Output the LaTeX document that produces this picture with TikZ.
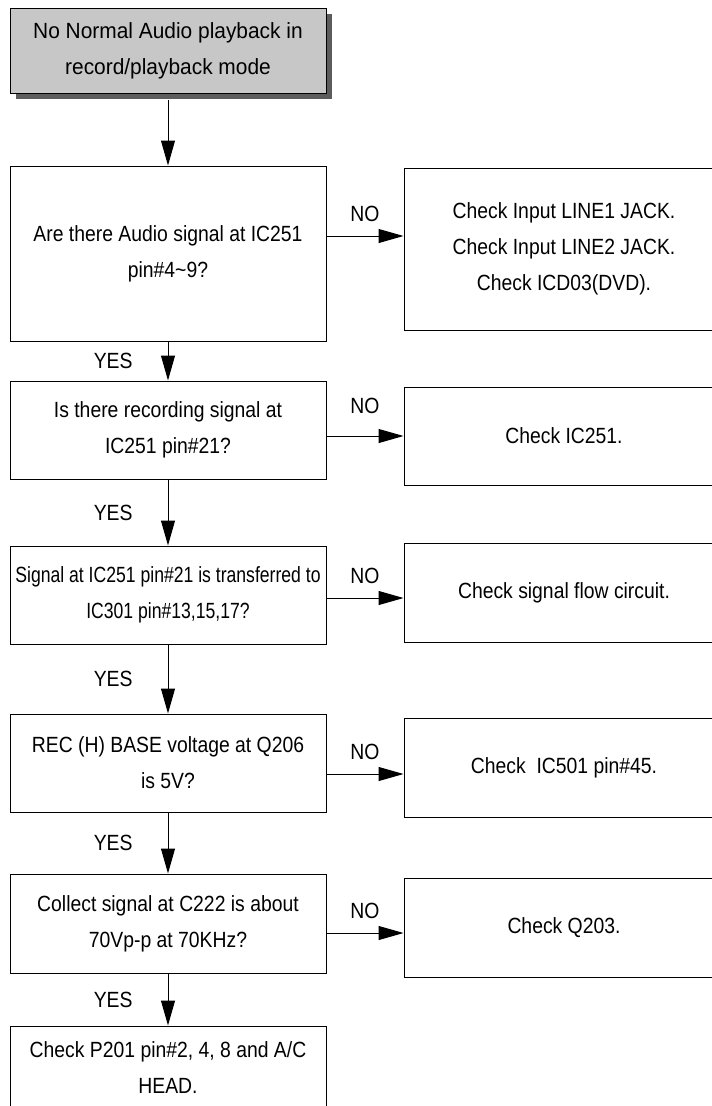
\documentclass[tikz,border=0pt]{standalone}
\usepackage{fontspec}
\setmainfont[FakeStretch=0.88]{Liberation Sans}
\newfontfamily\narrowfont[FakeStretch=0.8]{Liberation Sans}
\newfontfamily\widefont[FakeStretch=0.95]{Liberation Sans}
\usetikzlibrary{arrows.meta,positioning,shadows}
\newcommand{\flowfont}{\fontsize{22}{36}\selectfont}
\definecolor{headfill}{gray}{0.78}
\definecolor{headshade}{gray}{0.36}
\tikzset{
  ask/.style={draw, line width=1pt, minimum width=316pt, minimum height=98pt, inner sep=0pt, align=center, font=\flowfont},
  fix/.style={ask, minimum width=320pt},
  head/.style={ask, fill=headfill, minimum height=85pt, font=\flowfont\widefont,
               drop shadow={shadow xshift=6pt, shadow yshift=-6pt, fill=headshade, opacity=1}},
  flow/.style={-{Triangle[length=25pt, width=14pt]}, line width=1pt},
  lbl/.style={font=\flowfont, inner sep=0pt},
}

\begin{document}
\begin{tikzpicture}[x=1pt, y=-1pt]
  \clip (0,0) rectangle (712,1106);
  \node[head] (start) at (168,50.5) {No Normal Audio playback in\\record/playback mode};
  \node[ask, minimum height=175pt] (q1) at (168,253.5) {Are there Audio signal at IC251\\pin\#4\textasciitilde9?};
  \node[ask] (q2) at (168,430) {Is there recording signal at\\IC251 pin\#21?};
  \node[ask, font=\flowfont\narrowfont] (q3) at (168,595) {Signal at IC251 pin\#21 is transferred to\\IC301 pin\#13,15,17?};
  \node[ask] (q4) at (168,763) {REC (H) BASE voltage at Q206\\is 5V?};
  \node[ask, minimum height=99pt] (q5) at (168,923.5) {Collect signal at C222 is about\\70Vp-p at 70KHz?};
  \node[ask, minimum height=84pt] (fin) at (168,1068) {Check P201 pin\#2, 4, 8 and A/C\\HEAD.};

  \node[fix, minimum height=162pt] (chk1) at (564,249) {Check Input LINE1 JACK.\\Check Input LINE2 JACK.\\Check ICD03(DVD).};
  \node[fix] (chk2) at (564,436) {Check IC251.};
  \node[fix, minimum height=99pt] (chk3) at (564,592.5) {Check signal flow circuit.};
  \node[fix, minimum height=99pt] (chk4) at (564,767.5) {Check\ \ IC501 pin\#45.};
  \node[fix, minimum height=99pt] (chk5) at (564,927.5) {Check Q203.};

  \draw[flow, shorten <=6pt] (start.south) -- (q1.north);
  \draw[flow] (q1.south) -- node[lbl, left=35pt] {YES} (q2.north);
  \draw[flow] (q2.south) -- node[lbl, left=35pt] {YES} (q3.north);
  \draw[flow] (q3.south) -- node[lbl, left=35pt] {YES} (q4.north);
  \draw[flow] (q4.south) -- node[lbl, left=35pt] {YES} (q5.north);
  \draw[flow] (q5.south) -- node[lbl, left=35pt] {YES} (fin.north);

  \draw[flow, transform canvas={yshift=13pt}] (q1.east |- chk1.west) -- node[lbl, above=14pt] {NO} (chk1.west);
  \draw[flow] (q2.east |- chk2.west) -- node[lbl, above=22pt] {NO} (chk2.west);
  \draw[flow, transform canvas={yshift=-5.5pt}] (q3.east |- chk3.west) -- node[lbl, above=14pt] {NO} (chk3.west);
  \draw[flow, transform canvas={yshift=-6.5pt}] (q4.east |- chk4.west) -- node[lbl, above=14pt] {NO} (chk4.west);
  \draw[flow, transform canvas={yshift=-5.5pt}] (q5.east |- chk5.west) -- node[lbl, above=14pt] {NO} (chk5.west);
\end{tikzpicture}
\end{document}
